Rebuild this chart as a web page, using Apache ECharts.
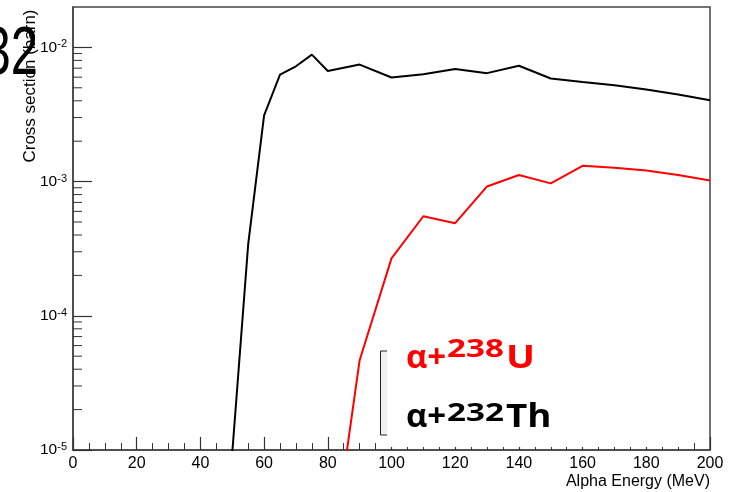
<!DOCTYPE html>
<html>
<head>
<meta charset="utf-8">
<script src="https://cdn.jsdelivr.net/npm/echarts@6/dist/echarts.min.js"></script>
<style>html,body{margin:0;padding:0;background:#fff;}#c{width:729px;height:492px;}</style>
</head>
<body>
<div id="c"></div>
<script>
// Alpha energy (MeV) and cross sections (barn)
const thEnergy = [50, 55, 60, 65, 70, 75, 80, 90, 100, 110, 120, 130, 140, 150, 160, 170, 180, 190, 200];
const thXS = [9.5e-6, 3.4e-4, 3.12e-3, 6.27e-3, 7.23e-3, 8.84e-3, 6.67e-3, 7.45e-3, 5.97e-3, 6.3e-3, 6.9e-3, 6.43e-3, 7.3e-3, 5.86e-3, 5.52e-3, 5.22e-3, 4.85e-3, 4.45e-3, 4.04e-3];
const uEnergy = [85, 90, 100, 110, 120, 130, 140, 150, 160, 170, 180, 190, 200];
const uXS = [6.7e-6, 4.67e-5, 2.68e-4, 5.52e-4, 4.9e-4, 9.2e-4, 1.12e-3, 9.7e-4, 1.31e-3, 1.27e-3, 1.21e-3, 1.12e-3, 1.02e-3];
const xTicks = [0, 20, 40, 60, 80, 100, 120, 140, 160, 180, 200];
const yDecades = [1e-5, 1e-4, 1e-3, 1e-2];

const thData = thEnergy.map((e, i) => [e, thXS[i]]);
const uData = uEnergy.map((e, i) => [e, uXS[i]]);
const minorY = [];
yDecades.forEach(d => { for (let k = 2; k <= 9; k++) { const v = d * k; if (v < 0.02) minorY.push([0, v]); } });

const chart = echarts.init(document.getElementById('c'), null, {renderer: 'canvas'});
const axisFont = 'Liberation Sans, Arial, sans-serif';
const legFont = 'Open Sans, Noto Sans, sans-serif';
function piece(text, x, y, fs, color, sx) {
  return {type: 'text', z: 90, x: x, y: y, scaleX: sx,
    style: {text: text, fontSize: fs, fontWeight: 'bold', fontFamily: legFont, fill: color, align: 'left', verticalAlign: 'middle'}};
}
chart.setOption({
  animation: false,
  backgroundColor: '#fff',
  grid: {left: 73, right: 19, top: 7, bottom: 42, show: true, borderColor: '#444', borderWidth: 1.5, backgroundColor: 'transparent', outerBoundsMode: 'none'},
  xAxis: {
    type: 'value', min: xTicks[0], max: xTicks[xTicks.length - 1], interval: 20,
    axisLine: {show: true, lineStyle: {color: '#444', width: 1.5}},
    axisTick: {show: true, inside: true, length: 13, lineStyle: {color: '#333', width: 1.2}},
    minorTick: {show: true, splitNumber: 4, length: 7, lineStyle: {color: '#333', width: 1}},
    splitLine: {show: false},
    axisLabel: {color: '#000', fontSize: 16, fontFamily: axisFont, margin: 6}
  },
  yAxis: {
    type: 'log', logBase: 10, min: 1e-5, max: 0.02,
    axisLine: {show: true, lineStyle: {color: '#444', width: 1.5}},
    axisTick: {show: true, inside: true, length: 19, lineStyle: {color: '#333', width: 1.2}},
    splitLine: {show: false},
    axisLabel: {
      showMaxLabel: false, margin: 6,
      formatter: function (v) {
        const e = Math.round(Math.log10(v));
        if (Math.abs(Math.pow(10, e) - v) / v > 1e-6) return '';
        return '{b|10}{s|' + e + '}';
      },
      rich: {
        b: {fontSize: 15.5, fontFamily: axisFont, color: '#000', lineHeight: 17},
        s: {fontSize: 11, fontFamily: axisFont, color: '#000', lineHeight: 10, verticalAlign: 'top'}
      }
    }
  },
  series: [
    {
      type: 'custom', silent: true, data: minorY, z: 5,
      renderItem: function (params, api) {
        const p = api.coord([0, api.value(1)]);
        return {type: 'line', shape: {x1: p[0], y1: p[1], x2: p[0] + 9, y2: p[1]}, style: {stroke: '#333', lineWidth: 1}};
      }
    },
    {type: 'line', data: thData, showSymbol: false, lineStyle: {color: '#000', width: 2}, itemStyle: {color: '#000'}, clip: true, z: 3},
    {type: 'line', data: uData, showSymbol: false, lineStyle: {color: '#ff0000', width: 2}, itemStyle: {color: '#ff0000'}, clip: true, z: 3}
  ],
  graphic: [
    {type: 'text', z: 50, x: 30, y: 86, rotation: Math.PI / 2,
      style: {text: 'Cross section (barn)', fontSize: 17, fontFamily: axisFont, fill: '#000', align: 'center', verticalAlign: 'middle'}},
    {type: 'text', z: 60, x: 710, y: 482,
      style: {text: 'Alpha Energy (MeV)', fontSize: 16, fontFamily: axisFont, fill: '#000', align: 'right', verticalAlign: 'middle'}},
    {type: 'text', z: 70, x: 38, y: 55, scaleX: 0.72,
      style: {text: '32', fontSize: 68, fontFamily: 'Liberation Sans, Arial, sans-serif', fill: '#000', align: 'right', verticalAlign: 'middle'}},
    {type: 'rect', z: 80, shape: {x: 380.5, y: 351, width: 12, height: 84}, style: {fill: '#f0f0f0', stroke: '#222', lineWidth: 1}},
    {type: 'rect', z: 81, shape: {x: 387, y: 342, width: 305, height: 105}, style: {fill: '#fff', stroke: null}},
    piece('α+', 406, 358.5, 33, '#ff0000', 1.0),
    piece('238', 447, 350, 25.5, '#ff0000', 1.3),
    piece('U', 506, 358.5, 32, '#ff0000', 1.2),
    piece('α+', 406, 417.5, 33, '#000', 1.0),
    piece('232', 447, 413.5, 25.5, '#000', 1.3),
    piece('Th', 506, 417.5, 32, '#000', 1.15)
  ]
});
</script>
</body>
</html>
